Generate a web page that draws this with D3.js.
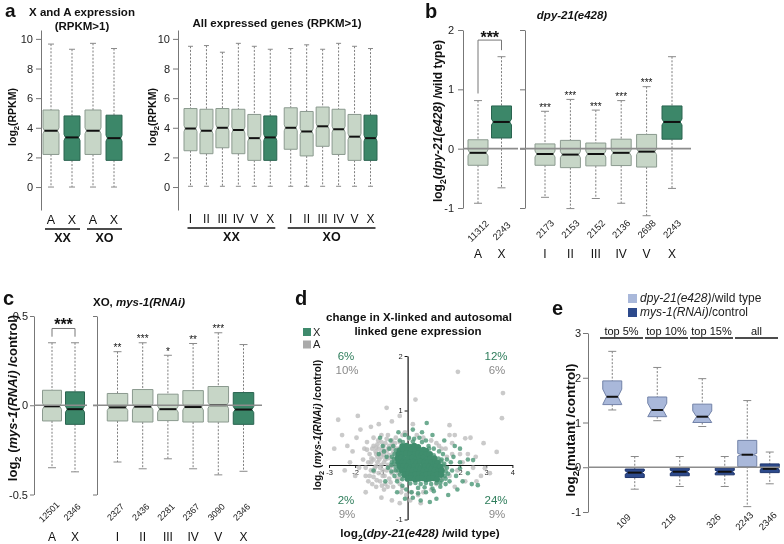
<!DOCTYPE html>
<html><head><meta charset="utf-8">
<script src="https://cdn.jsdelivr.net/npm/d3@7/dist/d3.min.js"></script>
<style>body{margin:0;background:#fff}svg{font-family:"Liberation Sans",Arial,Helvetica,sans-serif;will-change:transform}svg text{-webkit-font-smoothing:antialiased}</style>
</head><body>
<svg id="fig" width="784" height="544"></svg>
<script>
// ---------------- DATA ----------------
// stats: [lower whisker, Q1, median, Q3, upper whisker]
const aLeftCats = ["A","X","A","X"];
const aLeftGroups = ["XX","XO"];
const aLeftStats = [[0,2.2,3.8,5.2,9.65],[0,1.8,3.35,4.8,9.3],[0,2.2,3.8,5.2,9.7],[0,1.8,3.3,4.85,9.35]];
const aRightCats = ["I","II","III","IV","V","X","I","II","III","IV","V","X"];
const aRightGroups = ["XX","XO"];
const aRightStats = [
  [0.05,2.45,3.95,5.3,9.5],[0.05,2.25,3.8,5.25,9.55],[0.05,2.65,4.0,5.3,9.1],[0.05,2.25,3.85,5.25,9.7],[0.05,1.8,3.3,4.9,9.5],[0.05,1.8,3.35,4.8,9.3],
  [0.05,2.55,4.0,5.35,9.35],[0.05,2.1,3.75,5.1,9.6],[0.05,2.75,4.1,5.4,9.3],[0.05,2.2,3.9,5.25,9.7],[0.05,1.8,3.4,4.9,9.5],[0.05,1.8,3.3,4.85,9.35]];
const aTicks = [0,2,4,6,8,10];

const bLeftCats = ["A","X"];
const bLeftCounts = ["11312","2243"];
const bLeftStats = [[-0.92,-0.28,-0.07,0.15,0.81],[-0.66,0.18,0.45,0.72,1.55]];
const bRightCats = ["I","II","III","IV","V","X"];
const bRightCounts = ["2173","2153","2152","2136","2698","2243"];
const bRightStats = [[-0.82,-0.28,-0.09,0.08,0.63],[-1.01,-0.32,-0.10,0.14,0.83],[-0.84,-0.29,-0.09,0.095,0.65],[-0.92,-0.285,-0.07,0.16,0.81],[-1.13,-0.31,-0.05,0.24,1.045],[-0.67,0.16,0.45,0.72,1.55]];
const bRightSig = ["***","***","***","***","***",""];
const bBracket = [0.93,1.83,1.66];
const bTicks = [-1,0,1,2];

const cLeftCats = ["A","X"];
const cLeftCounts = ["12501","2346"];
const cLeftStats = [[-0.35,-0.088,-0.006,0.084,0.35],[-0.373,-0.107,-0.022,0.075,0.35]];
const cRightCats = ["I","II","III","IV","V","X"];
const cRightCounts = ["2327","2436","2281","2367","3090","2346"];
const cRightStats = [[-0.318,-0.088,-0.012,0.066,0.30],[-0.356,-0.094,-0.008,0.088,0.35],[-0.30,-0.086,-0.022,0.062,0.28],[-0.356,-0.094,-0.01,0.082,0.346],[-0.39,-0.094,0.0,0.105,0.406],[-0.37,-0.107,-0.024,0.071,0.34]];
const cRightSig = ["**","***","*","**","***",""];
const cBracket = [0.384,0.43,0.384];
const cTicks = [-0.5,0,0.5];

const dLegend = ["X","A"];
const dPctX = ["6%","12%","2%","24%"];   // TL, TR, BL, BR
const dPctA = ["10%","6%","9%","9%"];
const dXTicks = [-3,-2,-1,0,1,2,3,4];
const dYTicks = [-1,0,1,2];
// autosomal genes (grey)
const dPointsA = [
[-1.3,0.1],[-1.2,0.2],[-1.1,0.3],[-1.0,0.15],[-0.9,0.05],[-1.25,-0.05],[-1.1,-0.15],[-0.95,-0.2],[-0.8,0.25],[-0.7,0.35],[-0.85,0.4],[-1.0,0.42],[-1.15,0.38],[-1.35,0.3],[-1.45,0.2],[-1.5,0.05],[-1.4,-0.1],[-1.3,-0.22],[-1.05,-0.3],[-0.85,-0.35],[-0.7,-0.25],[-0.6,-0.15],[-0.75,0.0],[-0.65,0.12],[-0.55,0.22],[-0.5,0.32],[-0.6,0.45],[-0.45,0.5],[-0.3,0.42],[-0.35,0.3],[-0.4,0.15],[-0.45,0.02],[-0.5,-0.1],[-0.4,-0.25],[-0.3,-0.35],[-0.2,-0.42],[-0.55,-0.4],[-0.9,-0.45],[-1.2,-0.4],[-1.6,-0.2],[-1.7,0.1],[-1.65,0.3],[-1.55,0.42],[-1.3,0.5],[-1.0,0.55],[-0.75,0.55],[-0.2,0.55],[-0.1,0.6],[0.05,0.48],[0.1,0.35],[-0.05,0.25],[-1.15,0.05],[-0.95,0.28],[-1.05,-0.05],[-0.8,-0.1],[-0.65,-0.32],[-1.2,0.32],[-0.9,0.18],[-0.7,0.18],[-1.35,-0.35],[-1.5,-0.3],[-0.25,-0.5],[-0.05,-0.55],[0.15,-0.5],[0.4,-0.55],[0.6,-0.5],[0.9,-0.45],[1.1,-0.35],[1.3,-0.25],[1.4,-0.05],[1.5,0.15],[1.3,0.3],[1.1,0.4],[0.9,0.45],[0.6,0.5],[0.35,0.55],[1.7,0.2],[1.9,-0.1],[2.1,0.05],[2.3,0.2],[2.5,-0.05],[2.2,-0.3],[1.8,-0.4],[2.6,0.15],[2.8,-0.2],[3.4,0.24],[3.6,0.86],[3.64,1.32],[1.92,1.71],[-2.65,0.83],[-2.5,0.55],[-2.3,0.35],[-2.1,0.25],[-1.95,0.5],[-1.85,-0.05],[-2.0,-0.2],[-2.2,0.05],[-1.8,0.65],[-1.4,0.7],[-1.1,0.75],[-0.6,0.8],[-0.3,0.9],[0.2,0.75],[-1.6,-0.5],[-1.0,-0.6],[-0.6,-0.65],[-0.3,-0.7],[0.1,-0.65],[0.5,-0.7],[-2.4,-0.1],[-2.8,0.3],[-1.9,0.9],[-0.8,1.05],[0.3,1.2],[2.4,0.5],[2.9,0.4],[1.6,0.55],[1.6,0.73],[1.8,0.55],[2.2,0.49],[3.14,-0.15],[2.95,-0.06],[2.63,-0.3],[-1.2,-0.02],[-1.0,0.0],[-0.85,0.1],[-1.15,0.15],[-1.3,0.35],[-0.95,-0.1],[-1.4,0.05],[-0.75,0.3],[-0.6,0.3],
[-1.22,0.25],[-1.08,0.1],[-0.92,0.35],[-0.78,0.12],[-0.68,-0.05],[-0.58,0.38],[-0.48,0.4],[-0.42,0.25],[-0.52,0.1],[-0.62,-0.02],[-1.38,0.12],[-1.28,-0.12],[-1.18,-0.28],[-0.98,-0.38],[-0.76,-0.4],[-1.45,-0.2],[-1.55,0.28],[-1.6,-0.05],[-0.88,-0.2],[-1.02,0.22],[-1.12,0.45],[-0.8,0.48],[-0.35,-0.15],[-0.28,0.05],[-0.25,-0.25],[1.2,0.35],[1.6,-0.2],[1.45,0.3],[1.7,0.4],[2.0,0.2]];
// X-linked genes (green): dense core and outer points
const dPointsXCore = [
[-0.2,0.34],[-0.05,0.35],[0.1,0.33],[0.25,0.35],[0.4,0.33],
[-0.3,0.27],[-0.15,0.28],[0.0,0.26],[0.15,0.28],[0.3,0.27],[0.45,0.26],[0.6,0.28],[0.7,0.26],
[-0.35,0.2],[-0.2,0.19],[-0.05,0.21],[0.1,0.2],[0.25,0.19],[0.4,0.21],[0.55,0.2],[0.7,0.19],[0.85,0.2],
[-0.38,0.12],[-0.24,0.13],[-0.1,0.11],[0.04,0.12],[0.18,0.13],[0.32,0.11],[0.46,0.12],[0.6,0.13],[0.74,0.11],[0.88,0.12],[1.02,0.12],
[-0.35,0.05],[-0.21,0.04],[-0.07,0.05],[0.07,0.04],[0.21,0.05],[0.35,0.04],[0.49,0.06],[0.63,0.04],[0.77,0.05],[0.91,0.04],[1.05,0.05],[1.15,0.04],
[-0.3,-0.03],[-0.16,-0.02],[-0.02,-0.03],[0.12,-0.04],[0.26,-0.02],[0.4,-0.03],[0.54,-0.04],[0.68,-0.02],[0.82,-0.03],[0.96,-0.04],[1.1,-0.02],[1.24,-0.03],
[-0.22,-0.1],[-0.08,-0.11],[0.06,-0.09],[0.2,-0.1],[0.34,-0.11],[0.48,-0.09],[0.62,-0.1],[0.76,-0.11],[0.9,-0.09],[1.04,-0.1],[1.18,-0.11],[1.3,-0.1],
[-0.12,-0.18],[0.02,-0.17],[0.16,-0.19],[0.3,-0.18],[0.44,-0.17],[0.58,-0.19],[0.72,-0.18],[0.86,-0.17],[1.0,-0.19],[1.14,-0.18],[1.28,-0.18],
[0.0,-0.25],[0.14,-0.24],[0.28,-0.26],[0.42,-0.25],[0.56,-0.24],[0.7,-0.26],[0.84,-0.25],[0.98,-0.24],[1.12,-0.26]];
const dPointsXOuter = [
[-0.3,0.45],[0.55,0.42],[-0.18,0.42],[0.2,0.43],[-0.45,0.27],[0.82,0.3],[-0.5,0.2],[1.0,0.18],[-0.52,0.11],[-0.6,0.15],[1.18,0.12],[1.3,0.1],
[-0.52,0.04],[-0.62,0.0],[1.28,0.07],[1.4,0.02],[-0.46,-0.03],[-0.45,-0.1],[1.36,-0.01],[1.46,-0.12],[1.5,-0.05],[-0.36,-0.1],[-0.3,-0.18],[1.55,-0.16],[1.42,-0.2],
[-0.2,-0.26],[1.3,-0.28],[1.45,-0.25],[0.1,-0.34],[0.3,-0.33],[0.5,-0.35],[0.7,-0.33],[0.9,-0.35],[1.1,-0.33],[1.25,-0.33],[0.4,-0.42],[0.65,-0.41],[0.95,-0.43],
[-0.7,0.3],[-0.8,0.15],[-0.65,0.45],[-0.55,0.35],[-0.9,0.25],[-0.75,-0.05],[-0.62,-0.12],[-0.5,-0.2],[-0.4,-0.3],[-0.2,-0.38],[-0.05,-0.45],[0.15,-0.5],[0.4,-0.52],[0.7,-0.5],[1.0,-0.48],[1.25,-0.4],[1.45,-0.35],[1.6,-0.3],[1.7,-0.1],[1.65,0.05],[1.5,0.1],[1.35,0.2],[1.2,0.25],[1.0,0.3],[0.8,0.35],[0.7,0.45],[0.45,0.5],[0.25,0.48],[0.05,0.5],[-0.1,0.55],[0.55,0.6],[0.73,0.77],[0.2,0.65],[-0.35,0.6],[1.85,-0.2],[2.0,0.05],[2.1,-0.3],[2.3,-0.15],[2.45,-0.35],[2.68,-0.37],[1.9,-0.45],[1.55,-0.55],[1.1,-0.62],[0.85,-0.68],[0.5,-0.65],[0.2,-0.6],[-0.1,-0.62],[-0.4,-0.5],[-1.1,0.2],[-0.95,0.35],[-1.3,-0.1],[-0.85,-0.3],[2.0,0.3],[2.3,0.1],[1.8,0.35],[1.4,0.45],[-1.05,0.5],[0.95,0.55],[1.75,0.15],[-0.6,0.05],[2.5,0.09],[2.0,-0.06]];

const eGroups = ["top 5%","top 10%","top 15%","all"];
const eSeries = ["dpy-21(e428)/wild type","mys-1(RNAi)/control"];
const eDpyStats = [[1.28,1.40,1.575,1.93,2.59],[1.04,1.13,1.28,1.57,2.23],[0.91,1.0,1.13,1.41,1.98],[-0.88,0.015,0.28,0.6,1.49]];
const eMysStats = [[-0.49,-0.23,-0.12,-0.04,0.24],[-0.43,-0.19,-0.1,-0.02,0.24],[-0.43,-0.17,-0.1,-0.02,0.24],[-0.37,-0.12,-0.035,0.075,0.34]];
const eDpyNotch = [0.17,0.15,0.13,0.03];
const eMysNotch = [0.035,0.035,0.03,0.02];
const eCounts = ["109","218","326","2243","2346"];
const eTicks = [-1,0,1,2,3];

// ---------------- STYLE / HELPERS ----------------
const FONT = '"Liberation Sans", Arial, Helvetica, sans-serif';
const LIGHT = {fill:"#c7d6c7", stroke:"#8b9a8f"};
const DARK = {fill:"#3c8769", stroke:"#2a6450"};
const BLUE_L = {fill:"#a9b8da", stroke:"#7282a8"};
const BLUE_D = {fill:"#2d4a8c", stroke:"#1d346c"};
const svg = d3.select("#fig");

function txt(x,y,s,o={}){
  const t = svg.append("text").attr("x",x).attr("y",y).text(s)
    .attr("font-size",o.size||12).attr("text-anchor",o.anchor||"middle")
    .attr("font-weight",o.bold?"bold":"normal").attr("fill",o.fill||"#111");
  if(o.italic) t.attr("font-style","italic");
  return t;
}
function rich(x,y,parts,o={}){
  const sz = o.size||12;
  const t = svg.append("text").attr("font-size",sz).attr("font-weight",o.bold?"bold":"normal")
    .attr("text-anchor",o.anchor||"middle").attr("fill",o.fill||"#111");
  if(o.rotate) t.attr("transform",`translate(${x+sz*0.35},${y}) rotate(-90)`);
  else t.attr("transform",`translate(${x},${y})`);
  const sh = sz*0.32; let shifted=false;
  parts.forEach(p=>{
    const ts = t.append("tspan").text(p.t);
    if(p.sub){ ts.attr("font-size",sz*0.72).attr("dy",sh); shifted=true; }
    else if(shifted){ ts.attr("dy",-sh); shifted=false; }
    if(p.it) ts.attr("font-style","italic");
  });
  return t;
}
function yAxis(x,y,ticks,o={}){
  const ax = d3.axisLeft(y).tickValues(ticks).tickSize(o.ts||5).tickSizeOuter(0).tickPadding(o.pad==null?3:o.pad)
    .tickFormat(o.noLabels?()=>"":d=>String(d));
  const g = svg.append("g").attr("transform",`translate(${x},0)`).call(ax);
  g.select(".domain").attr("stroke",o.color||"#777").attr("stroke-width",o.sw||1);
  g.selectAll(".tick line").attr("stroke",o.color||"#777").attr("stroke-width",o.sw||1);
  g.selectAll(".tick text").attr("font-size",o.fs||11).attr("fill","#222").attr("font-family",FONT);
  return g;
}
function drawBoxes(stats,xs,y,cols,o){
  const g = svg.append("g");
  stats.forEach((s,i)=>{
    const [lo,q1,md,q3,hi]=s, cx=xs[i], w=o.w/2, c=cols[i];
    const wl=(a,b)=>g.append("line").attr("x1",cx).attr("x2",cx).attr("y1",y(a)).attr("y2",y(b))
      .attr("stroke","#7d7d7d").attr("stroke-width",1).attr("stroke-dasharray","2,1.6");
    wl(hi,q3); wl(q1,lo);
    [hi,lo].forEach(v=>g.append("line").attr("x1",cx-o.cap/2).attr("x2",cx+o.cap/2).attr("y1",y(v)).attr("y2",y(v))
      .attr("stroke","#8a8a8a").attr("stroke-width",1));
    const yq3=y(q3), yq1=y(q1), ym=y(md);
    let nt, nb;
    if(o.notch){ nt=y(Math.min(q3,md+o.notch[i])); nb=y(Math.max(q1,md-o.notch[i])); }
    else { nt=Math.max(yq3,ym-o.npx); nb=Math.min(yq1,ym+o.npx); }
    const nw=w*o.nf;
    const pts=[[cx-w,yq3],[cx+w,yq3],[cx+w,nt],[cx+nw,ym],[cx+w,nb],[cx+w,yq1],[cx-w,yq1],[cx-w,nb],[cx-nw,ym],[cx-w,nt]];
    g.append("polygon").attr("points",pts.map(p=>p.join(",")).join(" "))
      .attr("fill",c.fill).attr("stroke",c.stroke).attr("stroke-width",1);
    g.append("line").attr("x1",cx-nw).attr("x2",cx+nw).attr("y1",ym).attr("y2",ym).attr("stroke","#111").attr("stroke-width",2);
  });
}
function refLine(x1,x2,yv){ svg.append("line").attr("x1",x1).attr("x2",x2).attr("y1",yv).attr("y2",yv).attr("stroke","#8c8c8c").attr("stroke-width",1.6); }
function rotLabels(labels,xs,yc,fs){
  labels.forEach((l,i)=>svg.append("text").attr("transform",`translate(${xs[i]},${yc}) rotate(-45)`)
    .attr("text-anchor","middle").attr("dy","0.35em").attr("font-size",fs).attr("fill","#222").text(l));
}
function catLabels(labels,xs,yb,fs){ labels.forEach((l,i)=>txt(xs[i],yb,l,{size:fs,fill:"#111"})); }
function underline(x1,x2,yv){ svg.append("line").attr("x1",x1).attr("x2",x2).attr("y1",yv).attr("y2",yv).attr("stroke","#111").attr("stroke-width",1.6); }
const colOf = c => c==="X"?DARK:LIGHT;

// ---------------- PANEL a ----------------
txt(5,17,"a",{size:19,bold:true,anchor:"start"});
const yA = d3.scaleLinear().domain([-1.55,10.6]).range([210,30]);
txt(82,16,"X and A expression",{size:11.5,bold:true});
txt(82,30,"(RPKM>1)",{size:11.5,bold:true});
yAxis(41,yA,aTicks,{fs:11});
const xAL = d3.scaleLinear().domain([0,3]).range([51,114]);
const aLX = aLeftCats.map((c,i)=>xAL(i));
drawBoxes(aLeftStats,aLX,yA,aLeftCats.map(colOf),{w:16,cap:6,npx:3,nf:0.82});
catLabels(aLeftCats,aLX,223.5,12.5);
aLeftGroups.forEach((g,k)=>{ const a=aLX[k*2], b=aLX[k*2+1]; underline(a-6,b+8,229); txt((a+b)/2+1,242,g,{size:12.5,bold:true}); });
rich(12,117,[{t:"log"},{t:"2",sub:true},{t:"(RPKM)"}],{size:10.5,bold:true,rotate:true});
txt(277,27,"All expressed genes (RPKM>1)",{size:11.5,bold:true});
yAxis(178,yA,aTicks,{fs:11});
const xAR = d3.scaleLinear().domain([0,11.28]).range([190.5,370.5]);
const aRX = aRightCats.map((c,i)=>xAR(i+(i>=6?0.28:0)));
drawBoxes(aRightStats,aRX,yA,aRightCats.map(colOf),{w:13,cap:5,npx:3,nf:0.82});
catLabels(aRightCats,aRX,222.5,12);
aRightGroups.forEach((g,k)=>{ const a=aRX[k*6], b=aRX[k*6+5]; underline(a-3,b+5,228); txt((a+b)/2+1,241,g,{size:12.5,bold:true}); });
rich(152,117,[{t:"log"},{t:"2",sub:true},{t:"(RPKM)"}],{size:10.5,bold:true,rotate:true});

// ---------------- PANEL b ----------------
txt(425,18,"b",{size:20,bold:true,anchor:"start"});
txt(572,19,"dpy-21(e428)",{size:11.5,bold:true,italic:true});
const yB = d3.scaleLinear().domain([-1,2]).range([208,30]);
yAxis(463,yB,bTicks,{fs:11,pad:4});
yAxis(525,yB,bTicks,{noLabels:true});
const xBL = d3.scaleLinear().domain([0,1]).range([478,501.5]);
const bLX = bLeftCats.map((c,i)=>xBL(i));
const xBR = d3.scaleLinear().domain([0,5]).range([545,672]);
const bRX = bRightCats.map((c,i)=>xBR(i));
drawBoxes(bLeftStats,bLX,yB,bLeftCats.map(colOf),{w:20,cap:8,npx:3,nf:0.82});
drawBoxes(bRightStats,bRX,yB,bRightCats.map(colOf),{w:20,cap:8,npx:3,nf:0.82});
refLine(463,518,yB(0)); refLine(520,691,yB(0));
bRightSig.forEach((s,i)=>{ if(s) txt(bRX[i],yB(bRightStats[i][4])-0.5,s,{size:10}); });
svg.append("path").attr("d",`M${bLX[0]},${yB(bBracket[0])}V${yB(bBracket[1])}H${bLX[1]}V${yB(bBracket[2])}`)
  .attr("fill","none").attr("stroke","#777").attr("stroke-width",1);
txt((bLX[0]+bLX[1])/2,yB(bBracket[1])+2.5,"***",{size:16,bold:true});
rotLabels(bLeftCounts,bLX,231,9.5);
rotLabels(bRightCounts,bRX,229,9.5);
catLabels(bLeftCats,bLX,257.5,12);
catLabels(bRightCats,bRX,257.5,12);
rich(438,121,[{t:"log"},{t:"2",sub:true},{t:"("},{t:"dpy-21(e428)",it:true},{t:" /wild type)"}],{size:12,bold:true,rotate:true});

// ---------------- PANEL c ----------------
txt(3,305,"c",{size:20,bold:true,anchor:"start"});
rich(139,306,[{t:"XO, "},{t:"mys-1(RNAi)",it:true}],{size:11.5,bold:true});
const yC = d3.scaleLinear().domain([-0.5,0.5]).range([494.5,316]);
yAxis(34,yC,cTicks,{fs:11,ts:4,pad:2});
yAxis(97,yC,cTicks,{noLabels:true,ts:4});
const xCL = d3.scaleLinear().domain([0,1]).range([52,75]);
const cLX = cLeftCats.map((c,i)=>xCL(i));
const xCR = d3.scaleLinear().domain([0,5]).range([117.5,243.5]);
const cRX = cRightCats.map((c,i)=>xCR(i));
drawBoxes(cLeftStats,cLX,yC,cLeftCats.map(colOf),{w:19,cap:8,npx:3,nf:0.82});
drawBoxes(cRightStats,cRX,yC,cRightCats.map(colOf),{w:20.5,cap:8,npx:3,nf:0.82});
refLine(34,87,yC(0)); refLine(93,262,yC(0));
cRightSig.forEach((s,i)=>{ if(s) txt(cRX[i],yC(cRightStats[i][4])-0.5,s,{size:10}); });
svg.append("path").attr("d",`M${cLX[0]},${yC(cBracket[0])}V${yC(cBracket[1])}H${cLX[1]}V${yC(cBracket[2])}`)
  .attr("fill","none").attr("stroke","#777").attr("stroke-width",1);
txt((cLX[0]+cLX[1])/2,yC(cBracket[1])+2,"***",{size:16,bold:true});
rotLabels(cLeftCounts,cLX.map(v=>v-3),512,9);
rotLabels(cRightCounts,cRX.map(v=>v-2),512,9);
catLabels(cLeftCats,cLX,541,12);
catLabels(cRightCats,cRX,541,12);
rich(12,398,[{t:"log"},{t:"2",sub:true},{t:" ("},{t:"mys-1(RNAi)",it:true},{t:" /control)"}],{size:13,bold:true,rotate:true});

// ---------------- PANEL d ----------------
txt(295,305,"d",{size:20,bold:true,anchor:"start"});
txt(419,321,"change in X-linked and autosomal",{size:11.5,bold:true});
txt(418,335,"linked gene expression",{size:11.5,bold:true});
const dCols = ["#3f8a6c","#aaaaaa"];
dLegend.forEach((l,i)=>{
  svg.append("rect").attr("x",303).attr("y",328+i*12.5).attr("width",8).attr("height",8).attr("fill",dCols[i]);
  txt(313,335.5+i*12.5,l,{size:11,anchor:"start",fill:"#222"});
});
const xD = d3.scaleLinear().domain([-3,4]).range([329,512.4]);
const yD = d3.scaleLinear().domain([-1,2]).range([519.5,356]);
const gx = svg.append("g").attr("transform",`translate(0,${yD(0)})`)
  .call(d3.axisBottom(xD).tickValues(dXTicks).tickSize(3).tickSizeOuter(0).tickPadding(2).tickFormat(d=>String(d)));
const gy = svg.append("g").attr("transform",`translate(${xD(0)},0)`)
  .call(d3.axisLeft(yD).tickValues(dYTicks).tickSize(3).tickSizeOuter(0).tickPadding(2).tickFormat(d=>String(d)));
[gx,gy].forEach(g=>{
  g.select(".domain").attr("stroke","#111").attr("stroke-width",1.2);
  g.selectAll(".tick line").attr("stroke","#111");
  g.selectAll(".tick text").attr("font-size",7.5).attr("fill","#222").attr("font-family",FONT);
});
gx.selectAll(".tick text").filter(d=>d===0).attr("dx",3);
gy.selectAll(".tick text").filter(d=>d===0).attr("dy","-0.1em");
svg.append("g").selectAll("circle").data(dPointsA).join("circle")
  .attr("cx",d=>xD(d[0])).attr("cy",d=>yD(d[1])).attr("r",2.4).attr("fill","#bdbdbd").attr("fill-opacity",0.8);
svg.append("g").selectAll("circle").data(dPointsXOuter).join("circle")
  .attr("cx",d=>xD(d[0])).attr("cy",d=>yD(d[1])).attr("r",2.3).attr("fill","#4a9676").attr("fill-opacity",0.8);
svg.append("g").selectAll("circle").data(dPointsXCore).join("circle")
  .attr("cx",d=>xD(d[0])).attr("cy",d=>yD(d[1])).attr("r",3.1).attr("fill","#3f8d6d");
const pctPos = [[346,360],[496,360],[346,504],[496,504]];
dPctX.forEach((p,i)=>txt(pctPos[i][0],pctPos[i][1],p,{size:11.5,fill:"#2e7d5b"}));
dPctA.forEach((p,i)=>txt(pctPos[i][0]+1,pctPos[i][1]+14,p,{size:11.5,fill:"#8a8a8a"}));
rich(420,537,[{t:"log"},{t:"2",sub:true},{t:"("},{t:"dpy-21(e428)",it:true},{t:" /wild type)"}],{size:11.8,bold:true});
rich(317,425,[{t:"log"},{t:"2",sub:true},{t:" ("},{t:"mys-1(RNAi)",it:true},{t:" /control)"}],{size:10.2,bold:true,rotate:true});

// ---------------- PANEL e ----------------
txt(552,315,"e",{size:20,bold:true,anchor:"start"});
const eCols = [BLUE_L,BLUE_D];
[[{t:"dpy-21(e428)",it:true},{t:"/wild type"}],[{t:"mys-1(RNAi)",it:true},{t:"/control"}]].forEach((parts,i)=>{
  svg.append("rect").attr("x",628).attr("y",294+i*14).attr("width",9).attr("height",9).attr("fill",eCols[i].fill);
  rich(640,302+i*14,parts,{size:12,anchor:"start",fill:"#222"});
});
const yE = d3.scaleLinear().domain([-1,3]).range([512,333]);
yAxis(588,yE,eTicks,{fs:11,pad:2});
const xE = d3.scaleBand().domain(eGroups).range([601,781]);
const xEs = d3.scaleBand().domain(eSeries).range([0,xE.bandwidth()]);
const eDX = eGroups.map(g=>xE(g)+xEs(eSeries[0])+xEs.bandwidth()/2);
const eMX = eGroups.map(g=>xE(g)+xEs(eSeries[1])+xEs.bandwidth()/2);
drawBoxes(eDpyStats,eDX,yE,eGroups.map(()=>BLUE_L),{w:19,cap:8,notch:eDpyNotch,nf:0.6});
drawBoxes(eMysStats,eMX,yE,eGroups.map(()=>BLUE_D),{w:19,cap:8,notch:eMysNotch,nf:0.72});
refLine(588,780,yE(0));
eGroups.forEach(g=>{ underline(xE(g)-1,xE(g)+42,338); txt(xE(g)+xE.bandwidth()/2-2,335,g,{size:11,fill:"#111"}); });
const eCntX = eGroups.slice(0,3).map(g=>xE(g)+xE.bandwidth()/2).concat([eDX[3]-3,eMX[3]-2]);
rotLabels(eCounts,eCntX,521,9.5);
rich(570,430,[{t:"log"},{t:"2",sub:true},{t:"(mutant /control)"}],{size:13.5,bold:true,rotate:true});
</script>
</body></html>
